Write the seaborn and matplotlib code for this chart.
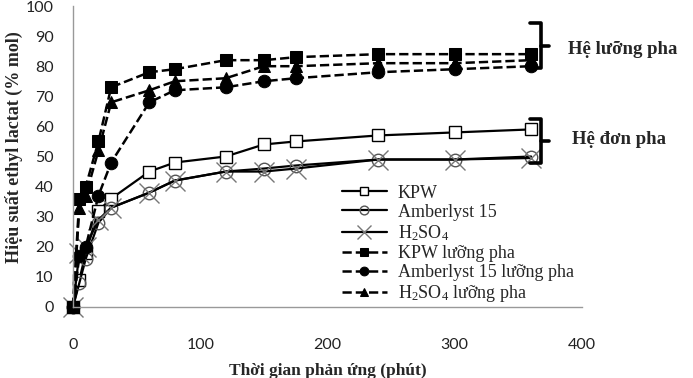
import matplotlib
matplotlib.use("Agg")
import matplotlib.pyplot as plt
import seaborn as sns

# thoi gian (phut)
time_min = [0, 5, 10, 20, 30, 60, 80, 120, 150, 175, 240, 300, 360]

# he don pha
kpw = [0, 9, 18, 32, 36, 45, 48, 50, 54, 55, 57, 58, 59]
amberlyst = [0, 8, 16, 28, 33, 38, 42, 45, 46, 47, 49, 49, 50]
h2so4 = [0, 18, 20, 29, 33, 38, 42, 45, 45, 46, 49, 49, 49.5]

# he luong pha
kpw_lp = [0, 36, 40, 55, 73, 78, 79, 82, 82, 83, 84, 84, 84]
amberlyst_lp = [0, 17, 20, 37, 48, 68, 72, 73, 75, 76, 78, 79, 80]
h2so4_lp = [0, 33, 37, 52, 68, 72, 75, 76, 80, 80, 81, 81, 82]

labels = ["KPW", "Amberlyst 15", "H$_2$SO$_4$",
          "KPW lưỡng pha", "Amberlyst 15 lưỡng pha", "H$_2$SO$_4$ lưỡng pha"]

sns.set_style("white")
plt.rcParams["mathtext.fontset"] = "custom"
plt.rcParams["mathtext.rm"] = "Liberation Serif"
plt.rcParams["mathtext.default"] = "rm"

W, H = 693, 378
fig = plt.figure(figsize=(W / 100, H / 100), dpi=100)
ax = fig.add_axes([73 / W, 1 - 307 / H, (582 - 73) / W, (307 - 6) / H])

series = [
    (kpw, dict(marker="s", markersize=9, markerfacecolor="white", markeredgecolor="black",
               markeredgewidth=1.0, linestyle="-", linewidth=1.6)),
    (amberlyst, dict(marker="o", markersize=9, markerfacecolor="none", markeredgecolor="#555555",
                     markeredgewidth=1.0, linestyle="-", linewidth=1.6)),
    (h2so4, dict(marker="x", markersize=15, markeredgecolor="#777777",
                 markeredgewidth=1.0, linestyle="-", linewidth=1.6)),
    (kpw_lp, dict(marker="s", markersize=9, markerfacecolor="black", markeredgecolor="black",
                  linestyle="--", linewidth=1.8, dashes=(3.5, 2.5))),
    (amberlyst_lp, dict(marker="o", markersize=9, markerfacecolor="black", markeredgecolor="black",
                        linestyle="--", linewidth=1.8, dashes=(3.5, 2.5))),
    (h2so4_lp, dict(marker="^", markersize=9, markerfacecolor="black", markeredgecolor="black",
                    linestyle="--", linewidth=1.8, dashes=(3.5, 2.5))),
]

for (vals, style), lab in zip(series, labels):
    sns.lineplot(x=time_min, y=vals, ax=ax, color="black", label=lab, clip_on=False, **style)

ax.set_xlim(0, 400)
ax.set_ylim(0, 100)
ax.set_xticks([0, 100, 200, 300, 400])
ax.set_yticks(range(0, 101, 10))

for side in ["top", "right"]:
    ax.spines[side].set_visible(False)
for side in ["left", "bottom"]:
    ax.spines[side].set_color("#999999")
    ax.spines[side].set_linewidth(1.0)

ax.tick_params(axis="x", direction="out", length=4, color="#999999", pad=18,
               labelsize=11.5, labelcolor="#222222")
ax.tick_params(axis="y", direction="out", length=4, color="#999999", pad=10,
               labelsize=11.5, labelcolor="#222222")
for lbl in ax.get_xticklabels() + ax.get_yticklabels():
    lbl.set_family("Lato")

serif = "Liberation Serif"
ax.set_xlabel("Thời gian phản ứng (phút)", family=serif, fontweight="bold", fontsize=12.5,
              labelpad=8)
ax.set_ylabel("Hiệu suất ethyl lactat (% mol)", family=serif, fontweight="bold", fontsize=13,
              labelpad=6)
ax.yaxis.set_label_coords(-0.098, 0.53)

handles, labs = ax.get_legend_handles_labels()
leg = ax.legend(handles, labs, loc="upper left", bbox_to_anchor=(256 / 509, 1 - 166 / 301),
                frameon=False, prop={"family": serif, "size": 13}, labelspacing=0.12,
                handlelength=2.5, handletextpad=0.6, markerscale=0.7, borderpad=0.2)

# ngoac nhon ben phai
def bracket(y0, y1):
    xs = [530 / W, 541 / W, 541 / W, 530 / W]
    ys = [1 - y0 / H, 1 - y0 / H, 1 - y1 / H, 1 - y1 / H]
    fig.add_artist(plt.Line2D(xs, ys, color="black", linewidth=2.6, solid_joinstyle="round"))
    ym = (y0 + y1) / 2
    fig.add_artist(plt.Line2D([541 / W, 549 / W], [1 - ym / H, 1 - ym / H], color="black",
                              linewidth=2.6))

bracket(23, 68)
bracket(119, 163)
fig.text(568 / W, 1 - 50 / H, "Hệ lưỡng pha", family=serif, fontweight="bold", fontsize=13.5,
         va="center")
fig.text(572 / W, 1 - 140 / H, "Hệ đơn pha", family=serif, fontweight="bold", fontsize=13.5,
         va="center")

fig.savefig("out.png", dpi=100)
